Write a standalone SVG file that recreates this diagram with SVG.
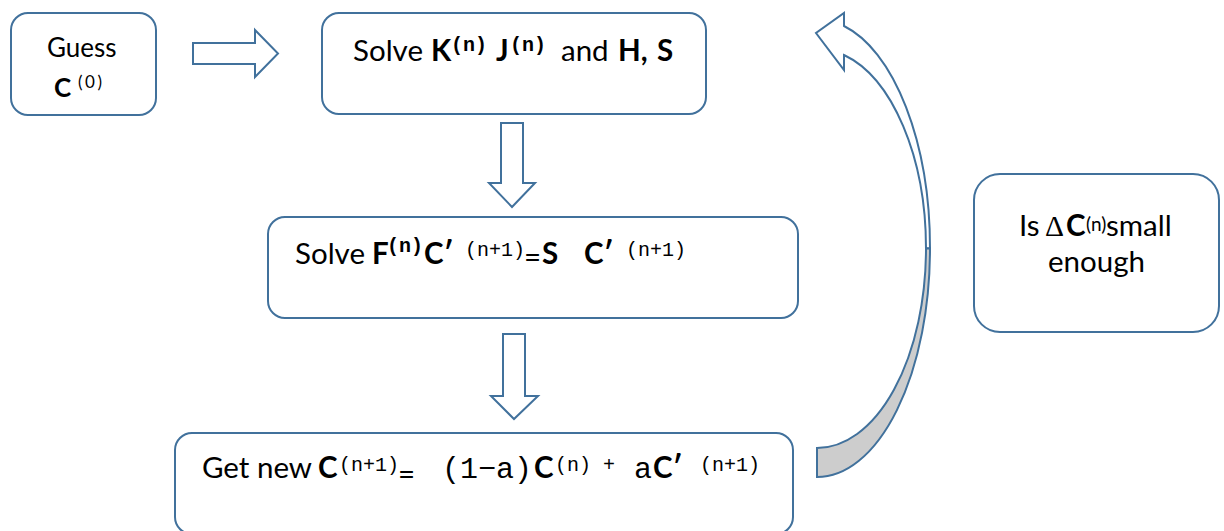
<svg xmlns="http://www.w3.org/2000/svg" width="1224" height="531" viewBox="0 0 1224 531">
<style>
.box{fill:#fff;stroke:#41719C;stroke-width:2}
.arr{fill:#fff;stroke:#41719C;stroke-width:2;stroke-linejoin:miter}
.shade{fill:#CDCDCD;stroke:#41719C;stroke-width:2}
text{font-family:Lato,"Liberation Sans",sans-serif;fill:#000}
.t{font-size:29.5px}
.g{font-size:26px}
.b{font-weight:bold}
.m{font-family:"Liberation Mono",monospace}
.s20{font-size:20px}
.m30{font-size:30px}
.d{font-family:"Liberation Serif",serif}
</style>
<rect width="1224" height="531" fill="#fff"/>
<g id="connectors">
<polygon class="arr" points="193,43 255,43 255,30 278,53.5 255,77 255,64 193,64"/>
<polygon class="arr" points="501,123 523,123 523,183 535,183 512,207 489,183 501,183"/>
<polygon class="arr" points="503,334 525,334 525,396 538,396 514,419 491,396 503,396"/>
<path class="arr" d="M844,26 A113 228.5 0 0 1 930,248.5 L926,248.4 A109 199.6 0 0 0 844,55 L844,70 L816,33 L844,13 Z"/>
<path class="shade" d="M930,248.5 A113 228.5 0 0 1 817,477 L817,448 A109 199.6 0 0 0 926,248.4 Z"/>
</g>
<g id="guess">
<rect class="box" x="11" y="13" width="145" height="102" rx="17"/>
<text class="g" x="47" y="57">Guess</text>
<text class="g b" x="54" y="97">C</text>
<text x="78" y="88" font-size="17" letter-spacing="2.5" fill="#222">(0)</text>
</g>
<g id="solveKJ">
<rect class="box" x="322" y="13" width="384" height="101" rx="17"/>
<text class="t" y="61"><tspan x="353">Solve</tspan><tspan class="b" x="431">K</tspan><tspan class="b" x="496">J</tspan><tspan x="561">and</tspan><tspan class="b" x="618">H,</tspan><tspan class="b" x="657">S</tspan></text>
<text class="m s20 b" y="51"><tspan x="451">(n)</tspan><tspan x="510">(n)</tspan></text>
</g>
<g id="solveF">
<rect class="box" x="268" y="217" width="530" height="101" rx="17"/>
<text class="t" y="264"><tspan x="295">Solve</tspan><tspan class="b" x="372">F</tspan><tspan class="b" x="424">C′</tspan><tspan class="b" x="542">S</tspan><tspan class="b" x="584">C′</tspan></text>
<text class="t" x="524" y="267">=</text>
<text class="m s20 b" x="387" y="252">(n)</text>
<text class="m s20" y="256"><tspan x="465">(n+1)</tspan><tspan x="626">(n+1)</tspan></text>
</g>
<g id="getnew">
<rect class="box" x="175" y="433" width="618" height="101" rx="17"/>
<text class="t" y="478"><tspan x="202">Get new</tspan><tspan class="b" x="318">C</tspan><tspan class="b" x="534">C</tspan><tspan class="b" x="653">C′</tspan></text>
<text class="t" x="398" y="484">=</text>
<text class="m m30" y="478"><tspan x="442">(1−a)</tspan><tspan x="634">a</tspan></text>
<text class="m s20" y="471"><tspan x="339">(n+1)</tspan><tspan x="555">(n)</tspan><tspan x="603">+</tspan><tspan x="700">(n+1)</tspan></text>
</g>
<g id="smallenough">
<rect class="box" x="974" y="174" width="245" height="158" rx="26"/>
<text class="t" y="236"><tspan x="1019">Is</tspan><tspan class="d" x="1045">Δ</tspan><tspan class="b" x="1066">C</tspan><tspan font-size="19" x="1086" y="231">(n)</tspan><tspan x="1106" y="236">small</tspan></text>
<text class="t" x="1096.5" y="272" text-anchor="middle">enough</text>
</g>
</svg>
